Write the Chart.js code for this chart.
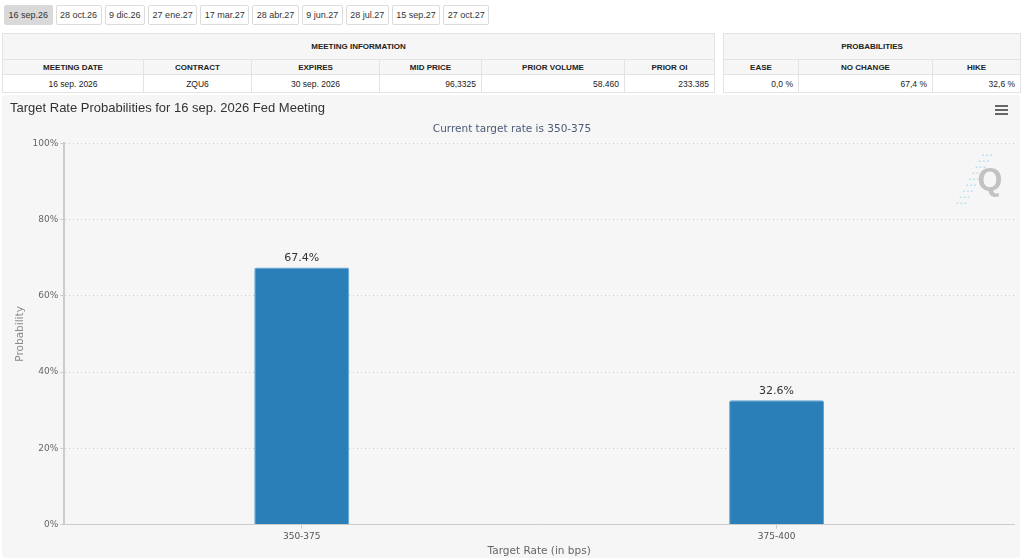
<!DOCTYPE html>
<html>
<head>
<meta charset="utf-8">
<script src="https://cdn.jsdelivr.net/npm/chart.js@4"></script>
<style>
  body { margin: 0; background: #fff; font-family: "Liberation Sans", Arial, sans-serif; width: 1024px; height: 558px; overflow: hidden; position: relative; }
  .tabs { position: absolute; left: 4px; top: 5px; display: flex; gap: 3px; }
  .tab { height: 18px; line-height: 18px; padding: 0 3.5px; border: 1px solid #dcdcdc; border-radius: 2px; font-size: 9px; color: #333; background: #fff; }
  .tab.active { background: #d9d9d9; border-color: #d9d9d9; }
  table { position: absolute; top: 33px; border-collapse: collapse; table-layout: fixed; font-size: 8.5px; color: #222; }
  td, th { border: 1px solid #e3e3e3; padding: 0 5px; white-space: nowrap; }
  th { font-weight: bold; font-size: 8px; background: #f6f6f6; }
  th.group { height: 25px; }
  th.col { height: 14px; }
  td { height: 17px; background: #fff; }
  td.c { text-align: center; }
  td.r { text-align: right; }
  #chartBox { position: absolute; left: 2px; top: 95px; width: 1018px; height: 463px; background: #f6f6f6; border-radius: 3px; }
  .menu { position: absolute; right: 12px; top: 10px; width: 13px; }
  .menu div { height: 2px; background: #666; margin-bottom: 2px; }
</style>
</head>
<body>
<div class="tabs" id="tabs"></div>
<table id="meetingTable" style="left:2px;width:712px"></table>
<table id="probTable" style="left:723px;width:297px"></table>
<div id="chartBox">
  <canvas id="rateChart"></canvas>
  <div class="menu"><div></div><div></div><div></div></div>
</div>
<script>
// --- DATA ---
const meetingTabs = ['16 sep.26', '28 oct.26', '9 dic.26', '27 ene.27', '17 mar.27', '28 abr.27', '9 jun.27', '28 jul.27', '15 sep.27', '27 oct.27'];

const meetingHeaders = ['MEETING DATE', 'CONTRACT', 'EXPIRES', 'MID PRICE', 'PRIOR VOLUME', 'PRIOR OI'];
const meetingValues = ['16 sep. 2026', 'ZQU6', '30 sep. 2026', '96,3325', '58.460', '233.385'];
const meetingWidths = [141, 108, 128, 102, 143, 90];

const probHeaders = ['EASE', 'NO CHANGE', 'HIKE'];
const probValues = ['0,0 %', '67,4 %', '32,6 %'];
const probWidths = [75, 134, 88];

const rateBuckets = ['350-375', '375-400'];
const probabilities = [67.4, 32.6];
const yTicks = [0, 20, 40, 60, 80, 100];

// --- HTML PARTS ---
document.getElementById('tabs').innerHTML = meetingTabs
    .map((t, i) => `<div class="tab${i === 0 ? ' active' : ''}">${t}</div>`).join('');

function buildTable(id, title, headers, values, widths, alignCenter) {
    const cols = widths.map(w => `<col style="width:${w}px">`).join('');
    const heads = headers.map(h => `<th class="col">${h}</th>`).join('');
    const cells = values.map((v, i) => `<td class="${alignCenter(i) ? 'c' : 'r'}">${v}</td>`).join('');
    document.getElementById(id).innerHTML =
        `<colgroup>${cols}</colgroup>
         <tr><th class="group" colspan="${headers.length}">${title}</th></tr>
         <tr>${heads}</tr>
         <tr>${cells}</tr>`;
}
buildTable('meetingTable', 'MEETING INFORMATION', meetingHeaders, meetingValues, meetingWidths, i => i < 3);
buildTable('probTable', 'PROBABILITIES', probHeaders, probValues, probWidths, () => false);

// --- CHART PLUGINS ---
const barLabels = {
    id: 'barLabels',
    afterDatasetsDraw(chart) {
        const ctx = chart.ctx;
        const meta = chart.getDatasetMeta(0);
        ctx.save();
        ctx.font = '11px "DejaVu Sans"';
        ctx.fillStyle = '#333';
        ctx.textAlign = 'center';
        ctx.textBaseline = 'bottom';
        meta.data.forEach((bar, i) => {
            ctx.fillText(probabilities[i].toFixed(1) + '%', bar.x, bar.y - 4);
        });
        ctx.restore();
    }
};

const watermark = {
    id: 'watermark',
    beforeDatasetsDraw(chart) {
        const ctx = chart.ctx;
        const a = chart.chartArea;
        const x = a.right - 36, y = a.top + 38;
        ctx.save();
        ctx.strokeStyle = 'rgba(120,200,235,0.55)';
        ctx.lineWidth = 1.2;
        ctx.setLineDash([2, 2]);
        for (let k = 0; k < 9; k++) {
            const yy = y - 26 + k * 6;
            const xx = x + 14 - k * 3.2;
            ctx.beginPath();
            ctx.moveTo(xx - 10, yy);
            ctx.lineTo(xx, yy);
            ctx.stroke();
        }
        ctx.setLineDash([]);
        ctx.font = 'bold 32px "Liberation Sans"';
        ctx.fillStyle = '#c2c2c2';
        ctx.textAlign = 'center';
        ctx.textBaseline = 'middle';
        ctx.fillText('Q', x + 12, y);
        ctx.restore();
    }
};

// --- CHART ---
new Chart(document.getElementById('rateChart'), {
    type: 'bar',
    data: {
        labels: rateBuckets,
        datasets: [{
            data: probabilities,
            backgroundColor: '#2a7fb8',
            borderColor: '#5ea4d3',
            borderWidth: 1,
            borderRadius: 2,
            borderSkipped: 'bottom',
            categoryPercentage: 1,
            barPercentage: 0.2
        }]
    },
    options: {
        responsive: true,
        maintainAspectRatio: false,
        animation: false,
        layout: { padding: { left: 8, right: 6, bottom: 0 } },
        plugins: {
            legend: { display: false },
            tooltip: { enabled: false },
            title: {
                display: true,
                text: 'Target Rate Probabilities for 16 sep. 2026 Fed Meeting',
                align: 'start',
                color: '#333',
                font: { family: '"Liberation Sans"', size: 13, weight: 'normal' },
                padding: { top: 6, bottom: 6 }
            },
            subtitle: {
                display: true,
                text: 'Current target rate is 350-375',
                color: '#4a5a78',
                font: { family: '"DejaVu Sans"', size: 10.5 },
                padding: { bottom: 8 }
            }
        },
        scales: {
            x: {
                grid: { display: true, drawOnChartArea: false, offset: false, color: '#ccc', tickLength: 4 },
                border: { display: true, color: '#ccc' },
                ticks: { color: '#555', font: { family: '"DejaVu Sans"', size: 9 }, padding: 3 },
                title: { display: true, text: 'Target Rate (in bps)', color: '#666', font: { family: '"DejaVu Sans"', size: 10.5 }, padding: { top: 0, bottom: 0 } }
            },
            y: {
                min: 0,
                max: 100,
                afterBuildTicks(axis) { axis.ticks = yTicks.map(v => ({ value: v })); },
                grid: { color: '#cfcfcf', tickLength: 4, tickColor: '#ccc' },
                border: { display: true, color: '#ccc', width: 2, dash: [1, 3] },
                ticks: { color: '#666', font: { family: '"DejaVu Sans"', size: 9 }, padding: 2, callback: v => v + '%' },
                title: { display: true, text: 'Probability', color: '#888', font: { family: '"DejaVu Sans"', size: 10.5 } }
            }
        }
    },
    plugins: [barLabels, watermark]
});
</script>
</body>
</html>
